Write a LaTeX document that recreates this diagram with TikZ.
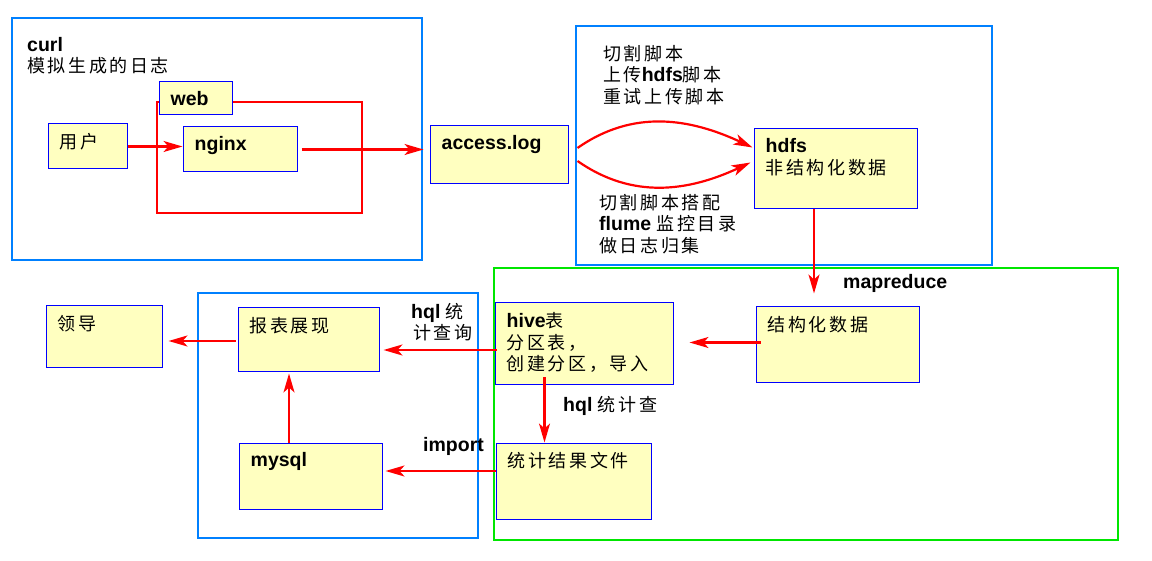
\documentclass[tikz,border=0pt]{standalone}
\usepackage{fontspec}
\setmainfont{Noto Sans CJK SC}[LetterSpace=14.5]
\newfontfamily\latfont{Liberation Sans}
\usetikzlibrary{arrows.meta,fit}
\definecolor{frameblue}{RGB}{0,128,255}
\definecolor{boxblue}{RGB}{0,0,255}
\definecolor{boxyellow}{RGB}{255,255,192}
\definecolor{flowred}{RGB}{255,0,0}
\definecolor{zonegreen}{RGB}{0,230,0}
\newcommand{\en}[1]{{\latfont\bfseries\fontsize{19.5pt}{21.5pt}\selectfont #1}}

\begin{document}
\begin{tikzpicture}[x=1pt,y=-1pt,
  box/.style={draw=boxblue,fill=boxyellow,line width=1pt,inner sep=0pt},
  frame/.style={draw=frameblue,line width=2pt,inner sep=0pt},
  zone/.style={draw=zonegreen,line width=2pt,inner sep=0pt},
  webzone/.style={draw=flowred,line width=2pt,inner sep=0pt},
  txt/.style={anchor=north west,inner sep=0pt,align=left,xshift=12pt,yshift=-10pt,
    font=\fontsize{18pt}{21.5pt}\selectfont},
  note/.style={anchor=north west,inner sep=0pt,align=left,
    font=\fontsize{18pt}{21.5pt}\selectfont},
  flow/.style={draw=flowred,line width=2.2pt,-{Stealth[length=19pt,width=11pt,inset=5pt]}}]

  \useasboundingbox (0,0) rectangle (1152,561);

  % frames
  \node[frame, fit={(12,18) (422,260)}] (gen) {};
  \node[frame, fit={(576,26) (992,265)}] (collect) {};
  \node[zone, fit={(494,268) (1118,540)}] (analyse) {};
  \node[frame, fit={(198,293) (478,538)}] (show) {};
  \node[webzone, fit={(157,102) (362,213)}] (webzone) {};

  % boxes
  \node[box, fit={(159,82) (232,115)}, label={[txt]north west:{\en{web}}}] (web) {};
  \node[box, fit={(48,124) (127,169)}, label={[txt]north west:{用户}}] (user) {};
  \node[box, fit={(183,127) (297,172)}, label={[txt]north west:{\en{nginx}}}] (nginx) {};
  \node[box, fit={(430,126) (568,184)}, label={[txt]north west:{\en{access.log}}}] (access) {};
  \node[box, fit={(754,129) (917,209)}, label={[txt]north west:{\en{hdfs}\\非结构化数据}}] (hdfs) {};
  \node[box, fit={(756,307) (919,383)}, label={[txt]north west:{结构化数据}}] (struct) {};
  \node[box, fit={(495,303) (673,385)}, label={[txt]north west:{\en{hive}表\\分区表，\\创建分区，导入}}] (hive) {};
  \node[box, fit={(496,443) (651,519)}, label={[txt]north west:{统计结果文件}}] (result) {};
  \node[box, fit={(238,308) (379,372)}, label={[txt]north west:{报表展现}}] (report) {};
  \node[box, fit={(239,443) (382,509)}, label={[txt]north west:{\en{mysql}}}] (mysql) {};
  \node[box, fit={(46,306) (162,368)}, label={[txt]north west:{领导}}] (leader) {};

  % free texts
  \node[note] (curltxt) at (27,37) {\en{curl}\\模拟生成的日志};
  \node[note] (scripttxt) at (603,45) {切割脚本\\上传\en{hdfs}脚本\\重试上传脚本};
  \node[note] (flumetxt) at (599,194) {切割脚本搭配\\\en{flume }监控目录\\做日志归集};
  \node[note] (mrtxt) at (843,274) {\en{mapreduce}};
  \node[note] (hqltxt) at (411,303) {\en{hql }统\\\hspace{2pt}计查询};
  \node[note] (importtxt) at (423,437) {\en{import}};
  \node[note] (hqlcalctxt) at (563,396) {\en{hql }统计查};

  % connectors
  \draw[flow] (user.east) -- (user.east -| nginx.west);
  \draw[flow] ([xshift=4pt]nginx.east) -- ([xshift=-6pt]nginx.east -| access.west);
  \draw[flow] ([xshift=9pt,yshift=7pt]access.east) to[out=35,in=155] ([xshift=-1pt,yshift=21.5pt]hdfs.west);
  \draw[flow] ([xshift=9pt,yshift=-6pt]access.east) to[out=-35,in=-155] ([xshift=-3pt,yshift=6.5pt]hdfs.west);
  \draw[flow] ([xshift=-21.5pt]hdfs.south) -- ([xshift=-21.5pt,yshift=13pt]hdfs.south |- struct.north);
  \draw[flow] ([xshift=5pt,yshift=2.5pt]struct.west) -- ([xshift=16pt,yshift=2.5pt]struct.west -| hive.east);
  \draw[flow] ([xshift=-39.5pt,yshift=8pt]hive.south) -- ([xshift=-39.5pt]hive.south |- result.north);
  \draw[flow] ([xshift=2pt,yshift=-6pt]hive.west) -- ([xshift=4pt,yshift=-6pt]hive.west -| report.east);
  \draw[flow] ([yshift=10pt]result.west) -- ([xshift=3pt,yshift=10pt]result.west -| mysql.east);
  \draw[flow] ([xshift=-21.5pt]mysql.north) -- ([xshift=-21.5pt,yshift=-1pt]mysql.north |- report.south);
  \draw[flow] ([xshift=-2pt,yshift=-1pt]report.west) -- ([xshift=6pt,yshift=-1pt]report.west -| leader.east);
\end{tikzpicture}
\end{document}
